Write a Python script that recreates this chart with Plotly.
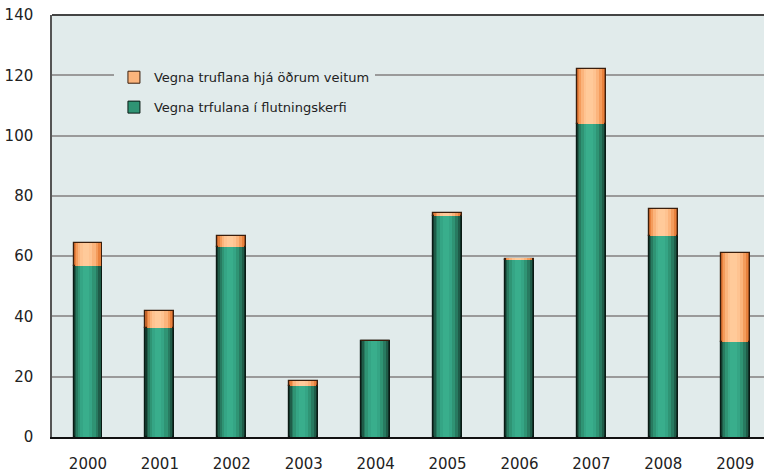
import plotly.graph_objects as go

years = ["2000", "2001", "2002", "2003", "2004", "2005", "2006", "2007", "2008", "2009"]
flutningskerfi = [56.7, 36.3, 63.2, 17.0, 31.9, 73.2, 58.8, 103.8, 66.6, 31.6]
adrir_veitur = [7.8, 5.4, 3.4, 1.5, 0.0, 1.2, 0.4, 18.2, 9.2, 29.3]

name_green = "Vegna trfulana í flutningskerfi"
name_orange = "Vegna truflana hjá öðrum veitum"

PLOT_BG = "#E1EBEB"

# layered bars fake the horizontal shading of the original (dark edges, light middle)
green_layers = [
    (0.40, 0.0, "#12382c"),
    (0.36, -0.005, "#1f5c48"),
    (0.31, -0.012, "#287a60"),
    (0.25, -0.018, "#2f9474"),
    (0.17, -0.022, "#35a585"),
    (0.09, -0.024, "#39ae8c"),
]
orange_layers = [
    (0.40, 0.0, "#c0622a"),
    (0.36, -0.005, "#e8813d"),
    (0.31, -0.012, "#f49c5c"),
    (0.25, -0.018, "#fbb47c"),
    (0.17, -0.022, "#fec391"),
    (0.09, -0.024, "#ffca9a"),
]

fig = go.Figure()

for i, (w, shift, c) in enumerate(green_layers):
    fig.add_trace(go.Bar(
        x=years, y=flutningskerfi, width=w, offset=-w / 2 + shift,
        marker=dict(color=c, line=dict(color="#0a1a14", width=1.2 if i == 0 else 0)),
        name=name_green, showlegend=False,
    ))
for i, (w, shift, c) in enumerate(orange_layers):
    fig.add_trace(go.Bar(
        x=years, y=adrir_veitur, base=flutningskerfi, width=w, offset=-w / 2 + shift,
        marker=dict(color=c, line=dict(color="#3a1e0c", width=1.2 if i == 0 else 0)),
        name=name_orange, showlegend=False,
    ))

# legend entries only
fig.add_trace(go.Bar(x=[None], y=[None], name=name_orange, legendgroup="a", legendrank=1,
                     marker=dict(color="#fbb47c", line=dict(color="#3a1e0c", width=1))))
fig.add_trace(go.Bar(x=[None], y=[None], name=name_green, legendgroup="b", legendrank=2,
                     marker=dict(color="#2f9474", line=dict(color="#0a1a14", width=1))))

fig.update_layout(
    width=764, height=475,
    barmode="overlay",
    margin=dict(l=52, r=0, t=15, b=38),
    plot_bgcolor=PLOT_BG,
    paper_bgcolor="white",
    font=dict(family="DejaVu Sans", size=15, color="#222222"),
    legend=dict(
        x=0.087, y=0.888, xanchor="left", yanchor="top",
        bgcolor=PLOT_BG, borderwidth=0,
        font=dict(family="DejaVu Sans", size=13, color="#222222"),
        itemwidth=30, traceorder="grouped", tracegroupgap=10,
    ),
    xaxis=dict(
        range=[-0.5, 9.4], showgrid=False, ticks="", automargin=False,
        showline=True, linecolor="#111111", linewidth=1.5,
        ticklabelstandoff=12,
    ),
    yaxis=dict(
        range=[0, 140], dtick=20, showgrid=True, gridcolor="#9a9a9a", gridwidth=1.5,
        showline=True, linecolor="#555555", linewidth=1.5, automargin=False,
        ticks="", ticklabelstandoff=14, zeroline=False,
    ),
    bargap=0,
)

fig.add_shape(type="line", xref="paper", yref="paper", x0=0, x1=1, y0=1, y1=1,
              line=dict(color="#444444", width=2))

# drop the default page margin so the chart sits at the window's corner
fig.write_html("out.html", config={"displayModeBar": False},
               post_script="document.body.style.margin='0';")
